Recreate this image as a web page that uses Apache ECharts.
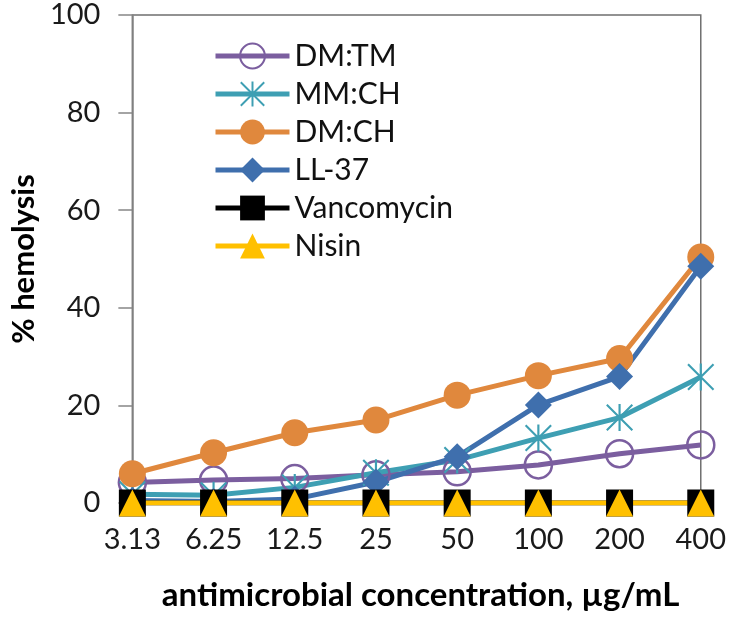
<!DOCTYPE html>
<html>
<head>
<meta charset="utf-8">
<script src="https://cdn.jsdelivr.net/npm/echarts@6/dist/echarts.min.js"></script>
<style>
  html, body { margin: 0; padding: 0; background: #fff; }
  #chart { width: 729px; height: 628px; }
</style>
</head>
<body>
<div id="chart"></div>
<script>
const concentrations = ['3.13', '6.25', '12.5', '25', '50', '100', '200', '400']
const dmTm = [4.2, 4.7, 5.0, 5.8, 6.4, 7.8, 10.1, 11.9]
const mmCh = [1.8, 1.6, 3.2, 6.2, 8.8, 13.3, 17.5, 25.8]
const dmCh = [6.0, 10.3, 14.4, 17.0, 22.1, 26.1, 29.6, 50.4]
const ll37 = [0.5, 0.3, 0.8, 4.3, 9.5, 20.1, 25.9, 48.5]
const vancomycin = [0, 0, 0, 0, 0, 0, 0, 0]
const nisin = [0, 0, 0, 0, 0, 0, 0, 0]
const yTicks = [0, 20, 40, 60, 80, 100]

const FONT = 'Lato, "Open Sans", sans-serif'

// asterisk marker: vertical bar + two diagonals
const ASTERISK = 'path://M9.2,0 L10.8,0 L10.8,20 L9.2,20 Z M0,1.1 L1.1,0 L20,18.9 L18.9,20 Z M18.9,0 L20,1.1 L1.1,20 L0,18.9 Z'

const mkSeries = (name, data, color, symbol, extra = {}) => ({
  name,
  type: 'line',
  data,
  symbol,
  symbolSize: 27,
  lineStyle: { color, width: 5 },
  itemStyle: { color },
  emphasis: { disabled: true },
  ...extra,
})

const chart = echarts.init(document.getElementById('chart'), null, { renderer: 'canvas' })

chart.setOption({
  backgroundColor: '#fff',
  animation: false,
  grid: {
    left: 114,
    right: 26,
    top: 15,
    bottom: 125,
    show: true,
    borderColor: '#6f6f6f',
    borderWidth: 1.5,
  },
  legend: {
    orient: 'vertical',
    left: 208,
    top: 36,
    itemWidth: 74,
    itemHeight: 31,
    itemGap: 8,
    lineStyle: { width: 5 },
    textStyle: { fontFamily: FONT, fontSize: 30, color: '#111' },
    data: ['DM:TM', 'MM:CH', 'DM:CH', 'LL-37', 'Vancomycin', 'Nisin'],
  },
  xAxis: {
    type: 'category',
    data: concentrations,
    boundaryGap: false,
    name: 'antimicrobial concentration, µg/mL',
    nameLocation: 'middle',
    nameGap: 76,
    nameTextStyle: { fontFamily: FONT, fontSize: 33, fontWeight: 'bold', color: '#000', padding: [0, 0, 0, 8] },
    axisLine: { lineStyle: { color: '#868686', width: 1.5 } },
    axisTick: { show: false },
    axisLabel: { fontFamily: FONT, fontSize: 29, color: '#1a1a1a', margin: 22 },
  },
  yAxis: {
    type: 'value',
    min: yTicks[0],
    max: yTicks[yTicks.length - 1],
    interval: 20,
    name: '% hemolysis',
    nameLocation: 'middle',
    nameGap: 84,
    nameTextStyle: { fontFamily: FONT, fontSize: 31, fontWeight: 'bold', color: '#000' },
    axisLine: { show: true, lineStyle: { color: '#868686', width: 1.5 } },
    axisTick: { show: true, inside: false, length: 14, lineStyle: { color: '#868686', width: 1.5 } },
    axisLabel: { fontFamily: FONT, fontSize: 29, color: '#1a1a1a', margin: 32 },
    splitLine: { show: false },
  },
  series: [
    mkSeries('DM:TM', dmTm, '#7b5e9f', 'circle', {
      itemStyle: { color: 'rgba(255,255,255,0)', borderColor: '#7b5e9f', borderWidth: 2.5 },
    }),
    mkSeries('MM:CH', mmCh, '#3e9fb3', ASTERISK),
    mkSeries('DM:CH', dmCh, '#e0883d', 'circle'),
    mkSeries('LL-37', ll37, '#3f6fad', 'diamond'),
    mkSeries('Vancomycin', vancomycin, '#000000', 'rect'),
    mkSeries('Nisin', nisin, '#ffc000', 'triangle'),
  ],
})
</script>
</body>
</html>
